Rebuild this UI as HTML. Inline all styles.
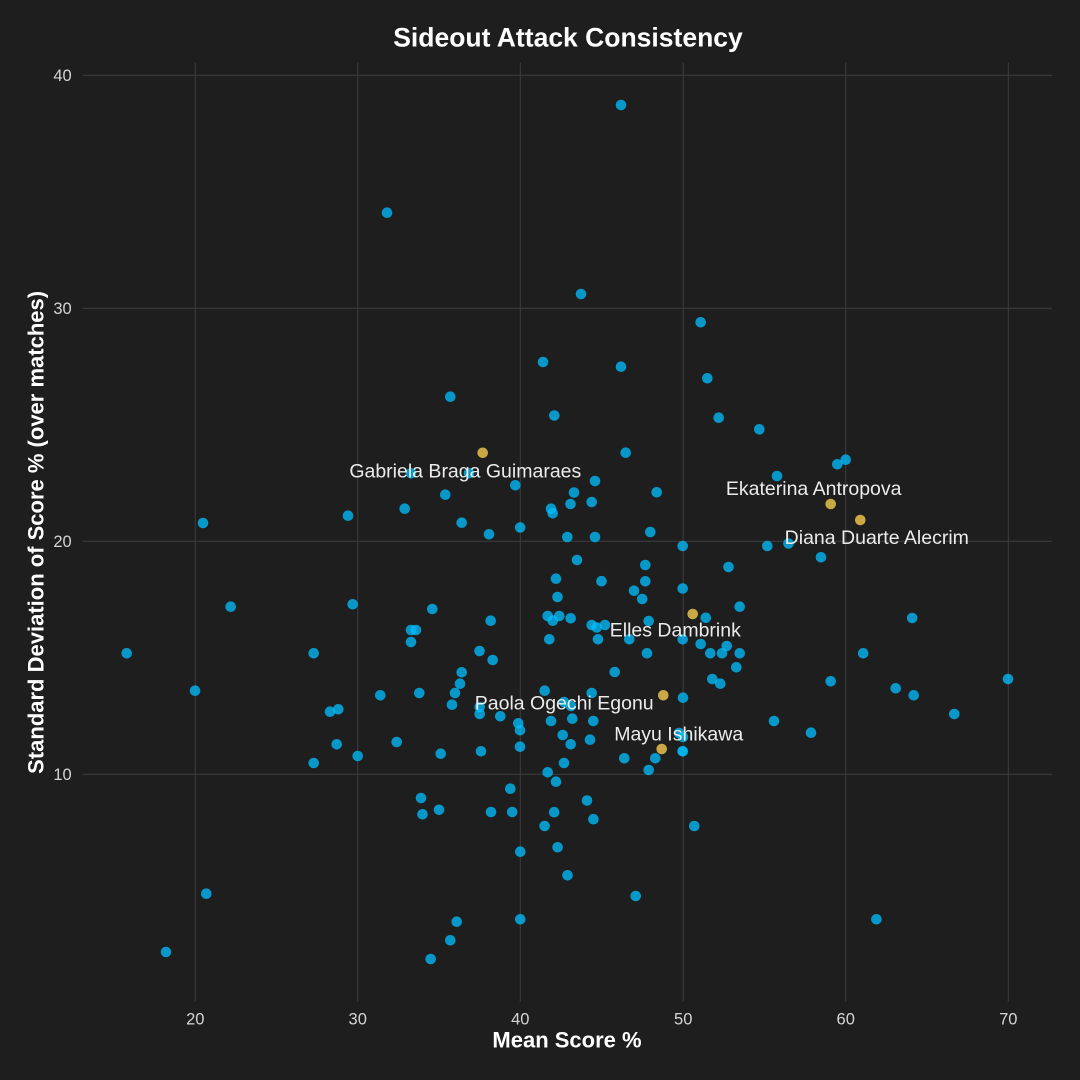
<!DOCTYPE html>
<html>
<head>
<meta charset="utf-8">
<style>
  html,body{margin:0;padding:0;background:#1e1e1e;}
  svg{display:block;}
  .tick{font-family:"Liberation Sans",sans-serif;font-size:16.5px;fill:#d4d4d4;}
  .lab{font-family:"Liberation Sans",sans-serif;font-size:19.5px;fill:#ebebeb;text-anchor:middle;}
  .ttl{font-family:"Liberation Sans",sans-serif;font-weight:bold;fill:#ffffff;text-anchor:middle;}
</style>
</head>
<body>
<svg id="chart" width="1080" height="1080" viewBox="0 0 1080 1080" xmlns="http://www.w3.org/2000/svg">
  <rect x="0" y="0" width="1080" height="1080" fill="#1e1e1e"/>
  <g stroke="#3b3b3b" stroke-width="1.1">
    <line x1="82.7" y1="75.3" x2="1052.3" y2="75.3"/>
    <line x1="82.7" y1="308.3" x2="1052.3" y2="308.3"/>
    <line x1="82.7" y1="541.3" x2="1052.3" y2="541.3"/>
    <line x1="82.7" y1="774.3" x2="1052.3" y2="774.3"/>
    <line x1="195.3" y1="62.7" x2="195.3" y2="1001.7"/>
    <line x1="357.7" y1="62.7" x2="357.7" y2="1001.7"/>
    <line x1="520.3" y1="62.7" x2="520.3" y2="1001.7"/>
    <line x1="683.2" y1="62.7" x2="683.2" y2="1001.7"/>
    <line x1="845.7" y1="62.7" x2="845.7" y2="1001.7"/>
    <line x1="1008.3" y1="62.7" x2="1008.3" y2="1001.7"/>
  </g>
  <g class="tick" text-anchor="end">
    <text x="71.7" y="81.2">40</text>
    <text x="71.7" y="314.2">30</text>
    <text x="71.7" y="547.2">20</text>
    <text x="71.7" y="780.2">10</text>
  </g>
  <g class="tick" text-anchor="middle">
    <text x="195.3" y="1024.4">20</text>
    <text x="357.7" y="1024.4">30</text>
    <text x="520.3" y="1024.4">40</text>
    <text x="683.2" y="1024.4">50</text>
    <text x="845.7" y="1024.4">60</text>
    <text x="1008.3" y="1024.4">70</text>
  </g>
  <text class="ttl" x="568" y="46.7" font-size="26.5">Sideout Attack Consistency</text>
  <text class="ttl" x="567" y="1047.7" font-size="22">Mean Score %</text>
  <text class="ttl" font-size="22" transform="translate(43.5,532.4) rotate(-90)">Standard Deviation of Score % (over matches)</text>
  <g id="pts" fill="#00bfff" fill-opacity="0.76"></g>
  <g id="hl" fill="#c9a845"></g>
  <g id="labels">
    <text class="lab" x="465.3" y="477.3">Gabriela Braga Guimaraes</text>
    <text class="lab" x="813.7" y="495">Ekaterina Antropova</text>
    <text class="lab" x="876.8" y="544">Diana Duarte Alecrim</text>
    <text class="lab" x="675.3" y="636.7">Elles Dambrink</text>
    <text class="lab" x="564.2" y="709.3">Paola Ogechi Egonu</text>
    <text class="lab" x="678.7" y="740.7">Mayu Ishikawa</text>
  </g>
</svg>
<script>
(function(){
  var P="621,105 387,212.7 581,294 700.7,322.3 543,362 621,366.7 707.3,378.3 450.3,396.7 554.3,415.5 718.7,417.7 759.3,429.3 625.7,452.7 411,473.3 469,473.3 845.7,459.7 837.3,464.3 777,476 595,481 515.3,485.3 445.3,494.7 574,492.5 656.7,492.3 591.7,502 570.5,504 551,508.7 552.7,513.3 404.7,508.7 348,515.7 203,523 461.7,522.7 520.2,527.5 489,534.3 650.3,532 567.3,537 595,537 682.7,546 767.3,546 788.5,543.5 821,557.3 728.5,567 577,560 645.3,565 556,578.7 601.5,581.2 645.3,581.3 634,590.7 682.7,588.5 557.5,597 642.2,599 230.7,606.7 352.7,604.3 432.3,609 739.7,606.7 705.8,617.8 912.2,618 547.7,616 559.3,616 570.7,618.3 552.7,620.7 490.7,620.7 648.7,621 591.7,625 596.7,627.5 605,625 411,630 416,630 411,642 549.3,639.3 598,639.3 629.3,639.3 682.7,639.3 700.7,644 726.7,646 647,653.3 710.3,653.3 722,653.3 739.7,653.3 863.2,653.3 126.7,653.3 313.7,653.3 479.5,651 492.7,660 461.7,672.3 614.7,672 736.3,667.3 460,683.7 712.3,679 720.3,683.7 830.7,681.3 1008,679 895.7,688.3 913.7,695.3 195,690.7 380.3,695.3 419.3,693 455,693 544.7,690.7 591.7,693 683,697.7 452,704.7 338.3,709.3 330,711.7 479.7,707 479.7,714 564,702 571,706 500.3,716.3 518.3,723.3 520,730.3 551,721 572.3,718.7 593.3,721 774,721 954.3,714 562.7,735 570.7,744.3 590,739.7 336.7,744.3 396.7,742 357.7,756 313.7,763 440.7,753.7 481,751.3 520,746.7 564,763 679,733 683,737 811,732.7 682.7,751.3 624.3,758.3 655.3,758.3 648.7,770 547.7,772.3 556,781.7 510.3,788.7 587,800.5 421,798 422.5,814.3 439,809.8 491,812 512.2,812 554.2,812.2 593.4,819.2 544.6,826 694.3,826 557.6,847.3 520.3,851.7 567.5,875.3 635.7,896 206.3,893.7 456.7,921.7 520.3,919.3 876.4,919.3 166,952 450.3,940.3 430.7,959";
  var H="482.7,452.8 830.7,504 860.3,520 692.7,614 663.3,695.3 661.7,749";
  var NS="http://www.w3.org/2000/svg";
  function draw(str,id){
    var g=document.getElementById(id);
    str.split(" ").forEach(function(s){
      var xy=s.split(",");
      var c=document.createElementNS(NS,"circle");
      c.setAttribute("cx",xy[0]);c.setAttribute("cy",xy[1]);c.setAttribute("r","5.3");
      g.appendChild(c);
    });
  }
  draw(P,"pts");
  draw(H,"hl");
  var b=document.createElementNS(NS,"circle");
  b.setAttribute("cx","682.7");b.setAttribute("cy","751.3");b.setAttribute("r","5.3");
  b.setAttribute("fill-opacity","0.6");
  document.getElementById("pts").appendChild(b);
})();
</script>
</body>
</html>
